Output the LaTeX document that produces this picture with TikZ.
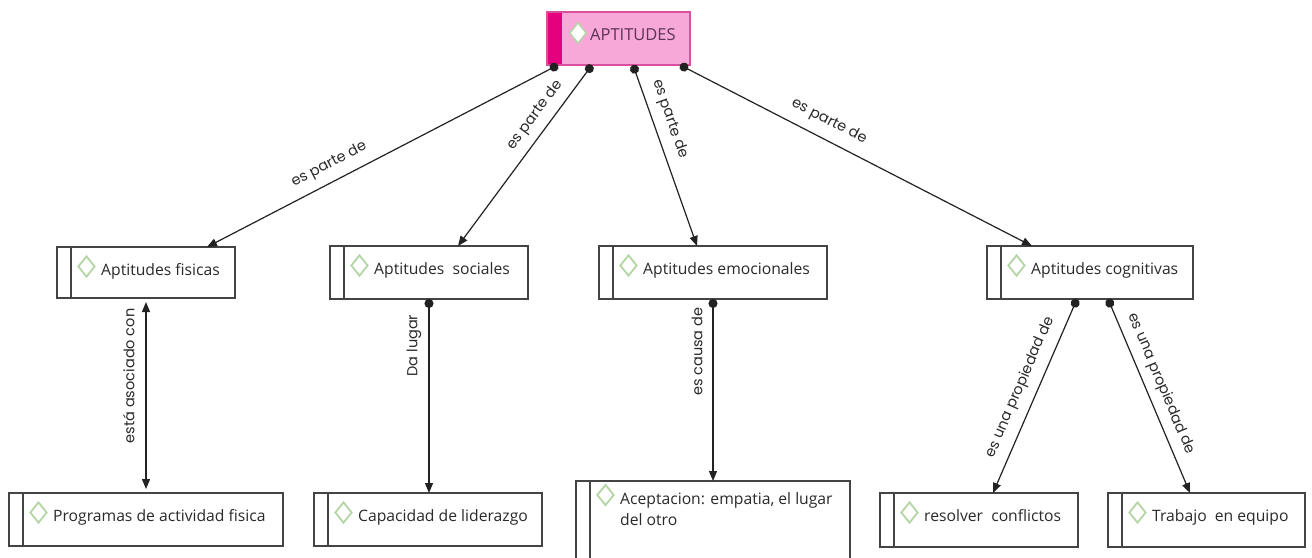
\documentclass[tikz,border=0pt]{standalone}
\usepackage{fontspec}
\setmainfont{Open Sans}
\newfontfamily\lblfont{Poppins}
\usetikzlibrary{arrows.meta,shapes.geometric,calc}
\definecolor{boxc}{HTML}{444444}
\definecolor{txtc}{HTML}{2A2A2A}
\definecolor{dmdc}{HTML}{B4D6A5}
\definecolor{pinkf}{HTML}{F8A8D8}
\definecolor{pinks}{HTML}{E5007E}
\definecolor{pinkb}{HTML}{D9509F}
\definecolor{toptxt}{HTML}{5A325A}
\definecolor{linec}{HTML}{222222}
\newcommand\mkbox[6]{%
  \node[cbox, minimum width=#4pt, minimum height=#5pt] (#1) at (#2,#3) {};
  \node[btxt] (#1-t) at ([xshift=44pt,yshift=-28.5pt]#1.north west) {#6};
  \node[dmd] (#1-d) at ([xshift=-14.5pt,yshift=9pt]#1-t.base west) {};
}
\begin{document}
\begin{tikzpicture}[x=1pt,y=-1pt,
  cbox/.style={draw=boxc, line width=1.4pt, rectangle, anchor=north west,
    inner sep=0pt, outer sep=0pt,
    path picture={\draw[boxc, line width=1.4pt]
      ([xshift=14pt]path picture bounding box.north west) --
      ([xshift=14pt]path picture bounding box.south west);}},
  btxt/.style={anchor=base west, inner sep=0pt, text=txtc,
    font=\fontsize{15.7}{21.5}\selectfont},
  dmd/.style={diamond, draw=dmdc, line width=1.8pt, minimum width=17pt,
    minimum height=21pt, inner sep=0pt},
  conn/.style={draw=linec, line width=1.2pt,
    arrows={Circle[length=9pt]-Triangle[length=10pt,width=8pt]}},
  rconn/.style={draw=linec, line width=1.2pt,
    arrows={Triangle[length=10pt,width=8pt]-Circle[length=9pt]}},
  dconn/.style={draw=linec, line width=1.2pt,
    arrows={Triangle[length=10pt,width=8pt]-Triangle[length=10pt,width=8pt]}},
  lbl/.style={font=\lblfont\fontsize{14.5}{16}\selectfont, text=txtc, inner sep=1pt}
]
\useasboundingbox[fill=white] (0,0) rectangle (1312,557);

% top box
\node[cbox, fill=pinkf, draw=pinkb, minimum width=143pt, minimum height=53pt,
  path picture={\fill[pinks] (path picture bounding box.north west) rectangle
    ([xshift=15pt]path picture bounding box.south west);}] (top) at (547,12) {};
\node[btxt, text=toptxt, font=\fontsize{16.5}{20}\selectfont] (top-t)
  at ([xshift=43pt,yshift=-28pt]top.north west) {APTITUDES};
\node[dmd, fill=white, line width=1.5pt] (top-d) at ([xshift=-12pt,yshift=7pt]top-t.base west) {};

% level 1
\mkbox{fis}{57}{247}{178}{51}{Aptitudes fisicas}
\mkbox{soc}{330}{246}{198}{53}{Aptitudes\ \ sociales}
\mkbox{emo}{599}{246}{228}{53}{Aptitudes emocionales}
\mkbox{cog}{987}{246}{206}{53}{Aptitudes cognitivas}

% level 2
\mkbox{prog}{9}{493}{274}{53}{Programas de actividad fisica}
\mkbox{cap}{314}{493}{228}{53}{Capacidad de liderazgo}
\mkbox{res}{880}{493}{198}{54}{resolver\ \ conflictos}
\mkbox{trab}{1108}{493}{197}{54}{Trabajo\ \ en equipo}

\node[cbox, minimum width=274pt, minimum height=80pt] (acep) at (576,481) {};
\node[btxt, align=left] (acep-t) at ([xshift=44pt,yshift=-44.5pt]acep.north west)
  {Aceptacion: empatia, el lugar\\del otro};
\node[dmd] (acep-d) at ([xshift=29.5pt,yshift=-14pt]acep.north west) {};

% connectors
\draw[conn] ([xshift=11pt]top.south west) --
  node[lbl, sloped, above=8pt, pos=0.63] {es parte de} ([xshift=150pt]fis.north west);
\draw[conn] ([xshift=45pt]top.south west) --
  node[lbl, sloped, above=7pt, pos=0.33] {es parte de} ([xshift=128pt]soc.north west);
\draw[conn] ([xshift=86pt]top.south west) --
  node[lbl, sloped, above=8pt, pos=0.33] {es parte de} ([xshift=98pt]emo.north west);
\draw[conn] ([xshift=133pt]top.south west) --
  node[lbl, sloped, above=9pt, pos=0.40] {es parte de} ([xshift=45pt]cog.north west);

\draw[dconn, shorten <=4pt, shorten >=4pt] (prog.north -| fis.south) --
  node[lbl, sloped, above=10pt, pos=0.6] {está asociado con} (fis.south);
\draw[rconn] (soc.south |- cap.north) --
  node[lbl, sloped, above=6pt, pos=0.76] {Da lugar} (soc.south);
\draw[rconn] (emo.south |- acep.north) --
  node[lbl, sloped, above=9pt, pos=0.71] {es causa de} (emo.south);

\draw[conn] ([xshift=90pt]cog.south west) --
  node[lbl, sloped, above=8pt, pos=0.49] {es una propiedad de} ([xshift=113pt]res.north west);
\draw[conn] ([xshift=121pt]cog.south west) --
  node[lbl, sloped, above=7pt, pos=0.47] {es una propiedad de} ([xshift=82pt]trab.north west);
\end{tikzpicture}
\end{document}
